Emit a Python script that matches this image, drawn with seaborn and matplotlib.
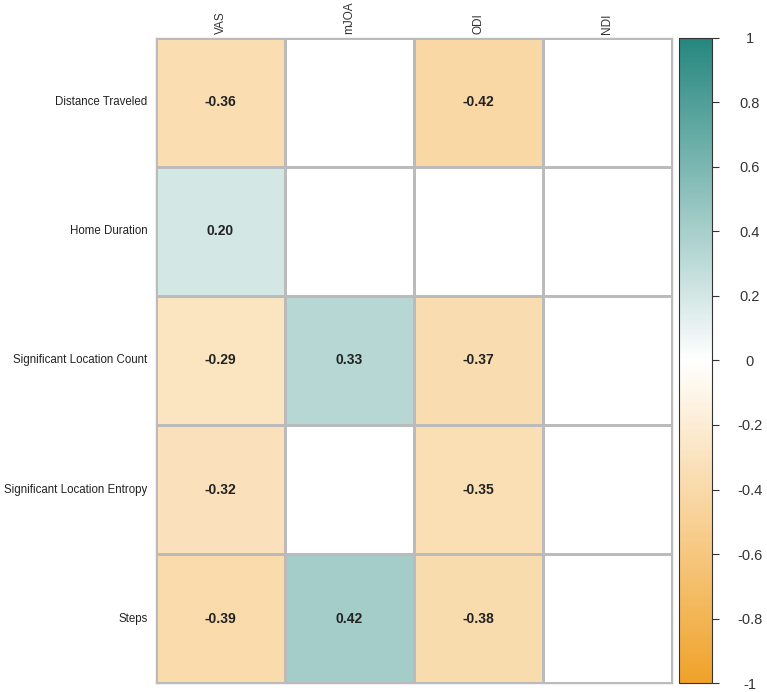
import matplotlib
import matplotlib.pyplot as plt
import seaborn as sns
import numpy as np
import pandas as pd
from matplotlib.colors import LinearSegmentedColormap

matplotlib.use('Agg')

# metrics (rows) vs outcome scores (columns); None = not significant, left blank
metrics = ['Distance Traveled', 'Home Duration', 'Significant Location Count',
           'Significant Location Entropy', 'Steps']
scores = ['VAS', 'mJOA', 'ODI', 'NDI']

vas = [-0.36, 0.20, -0.29, -0.32, -0.39]
mjoa = [None, None, 0.33, None, 0.42]
odi = [-0.42, None, -0.37, -0.35, -0.38]
ndi = [None, None, None, None, None]

cbar_ticks = [1, 0.8, 0.6, 0.4, 0.2, 0, -0.2, -0.4, -0.6, -0.8, -1]
cbar_labels = ['1', '0.8', '0.6', '0.4', '0.2', '0', '-0.2', '-0.4', '-0.6', '-0.8', '-1']

corr = pd.DataFrame({'VAS': vas, 'mJOA': mjoa, 'ODI': odi, 'NDI': ndi},
                    index=metrics, dtype=float)

# blank cells are drawn as 0 (white) so the grid lines still show
shown = corr.fillna(0)
labels = corr.map(lambda v: '' if pd.isna(v) else '{:.2f}'.format(v))

cmap = LinearSegmentedColormap.from_list('or_teal', ['#F0A22A', '#FFFFFF', '#25877F'])

plt.rcParams['font.family'] = ['Liberation Sans', 'DejaVu Sans']

fig = plt.figure(figsize=(7.67, 6.92), dpi=100)
ax = fig.add_axes([0.2034, 0.0130, 0.6727, 0.9321])
cax = fig.add_axes([0.8853, 0.0130, 0.0430, 0.9321])

sns.heatmap(shown, ax=ax, cbar_ax=cax, cmap=cmap, vmin=-1, vmax=1,
            annot=labels.values, fmt='', linewidths=0.8, linecolor='#BBBBBB',
            annot_kws={'fontsize': 10, 'fontweight': 'bold', 'color': '#222222'})

# outer frame of the grid
for s in ax.spines.values():
    s.set_visible(True)
    s.set_color('#BBBBBB')
    s.set_linewidth(1.0)

ax.xaxis.tick_top()
ax.set_xticklabels(scores, rotation=90, fontsize=8.5, color='#333333')
ax.set_yticklabels(metrics, rotation=0, fontsize=8.3, color='#222222')
ax.tick_params(axis='y', length=0, pad=6)
ax.tick_params(axis='x', length=0, pad=3)
ax.set_xlabel('')
ax.set_ylabel('')

# colour bar styling
cbar = ax.collections[0].colorbar
cbar.set_ticks(cbar_ticks)
cbar.set_ticklabels(cbar_labels)
cax.tick_params(axis='y', length=5, width=0.8, color='#333333', pad=22,
                labelsize=10.5, labelcolor='#333333')
for t in cax.get_yticklabels():
    t.set_ha('center')
cbar.outline.set_visible(True)
cbar.outline.set_edgecolor('#333333')
cbar.outline.set_linewidth(0.8)

plt.savefig('out.png', dpi=100)
